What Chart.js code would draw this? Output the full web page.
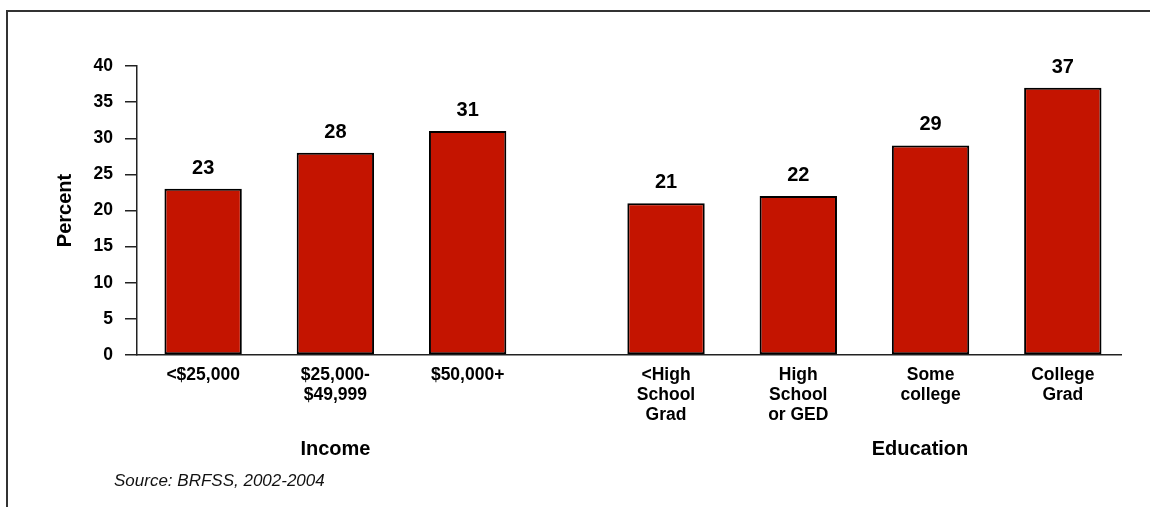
<!DOCTYPE html>
<html>
<head>
<meta charset="utf-8">
<script src="https://cdn.jsdelivr.net/npm/chart.js@4/dist/chart.umd.min.js"></script>
<style>
  html, body { margin: 0; padding: 0; background: #fff; }
  #wrap { width: 1150px; height: 507px; position: relative; }
</style>
</head>
<body>
<div id="wrap"><canvas id="c" width="1150" height="507"></canvas></div>
<script>
// Share of adults (%) by income and by education level
const incomeLabels = ['<$25,000', ['$25,000-', '$49,999'], '$50,000+'];
const incomeValues = [23, 28, 31];

const educationLabels = [['<High', 'School', 'Grad'], ['High', 'School', 'or GED'], ['Some', 'college'], ['College', 'Grad']];
const educationValues = [21, 22, 29, 37];

const groupTitles = ['Income', 'Education'];
const yAxisTitle = 'Percent';
const yRange = [0, 40];
const yStep = 5;
const sourceNote = 'Source: BRFSS, 2002-2004';

// ---- layout helpers ----
const FONT = "'Liberation Sans', Arial, Helvetica, sans-serif";
const GROUP_GAP = 0.5;            // extra empty slot fraction between groups
const TITLE_SHIFT = [0, 0.42];    // horizontal nudge of each group title (in slots)

const groups = [
  { labels: incomeLabels, values: incomeValues },
  { labels: educationLabels, values: educationValues }
];

const points = [];
const tickText = new Map();
const groupCenters = [];
let cursor = 0;
groups.forEach((g) => {
  const start = cursor;
  g.values.forEach((v, i) => {
    points.push({ x: cursor, y: v });
    tickText.set(cursor, g.labels[i]);
    cursor += 1;
  });
  groupCenters.push((start + cursor - 1) / 2);
  cursor += GROUP_GAP;
});
const lastX = points[points.length - 1].x;

// thin frame along the top and left edges
const framePlugin = {
  id: 'frame',
  beforeDraw(chart) {
    const ctx = chart.ctx;
    ctx.save();
    ctx.strokeStyle = '#333';
    ctx.lineWidth = 2;
    ctx.beginPath();
    ctx.moveTo(chart.width, 11);
    ctx.lineTo(7, 11);
    ctx.lineTo(7, chart.height);
    ctx.stroke();
    ctx.restore();
  }
};

// value labels above bars, group titles and the source note
const annotatePlugin = {
  id: 'annotate',
  afterDraw(chart) {
    const ctx = chart.ctx;
    const meta = chart.getDatasetMeta(0);
    const xs = chart.scales.x;
    ctx.save();
    ctx.fillStyle = '#000';
    ctx.textAlign = 'center';
    ctx.textBaseline = 'alphabetic';
    ctx.font = `bold 20px ${FONT}`;
    meta.data.forEach((bar, i) => {
      ctx.fillText(String(points[i].y), bar.x, bar.y - 15);
    });

    ctx.textBaseline = 'middle';
    ctx.font = `bold 20px ${FONT}`;
    groupTitles.forEach((t, i) => {
      ctx.fillText(t, xs.getPixelForValue(groupCenters[i] + TITLE_SHIFT[i]), 449);
    });

    ctx.textAlign = 'left';
    ctx.font = `italic 17px ${FONT}`;
    ctx.fillStyle = '#111';
    ctx.fillText(sourceNote, 114, 481);
    ctx.restore();
  }
};

new Chart(document.getElementById('c'), {
  type: 'bar',
  data: {
    datasets: [{
      data: points,
      backgroundColor: '#C41400',
      borderColor: '#000',
      borderWidth: 2,
      borderSkipped: false,
      barPercentage: 0.585,
      categoryPercentage: 1
    }]
  },
  options: {
    responsive: false,
    animation: false,
    devicePixelRatio: 1,
    layout: { padding: { top: 66, right: 29, left: 0, bottom: 0 } },
    plugins: { legend: { display: false }, tooltip: { enabled: false } },
    scales: {
      x: {
        type: 'linear',
        min: -0.5,
        max: lastX + 0.44,
        offset: false,
        grid: { display: false, drawTicks: false },
        border: { display: true, color: '#222', width: 1.5 },
        ticks: {
          autoSkip: false,
          maxRotation: 0,
          minRotation: 0,
          padding: 10,
          color: '#000',
          font: { family: FONT, size: 17.5, weight: 'bold', lineHeight: 1.14 },
          callback: (v) => (tickText.has(v) ? tickText.get(v) : '')
        },
        afterBuildTicks: (s) => { s.ticks = points.map((p) => ({ value: p.x })); },
        afterFit: (s) => { s.height = 152; }
      },
      y: {
        min: yRange[0],
        max: yRange[1],
        grid: { drawOnChartArea: false, drawTicks: true, tickLength: 12, color: '#222', lineWidth: 1.5 },
        border: { display: true, color: '#222', width: 1.5 },
        ticks: {
          stepSize: yStep,
          padding: 12,
          color: '#000',
          font: { family: FONT, size: 17.5, weight: 'bold' }
        },
        title: {
          display: true,
          text: yAxisTitle,
          color: '#000',
          font: { family: FONT, size: 20, weight: 'bold' },
          padding: { top: 53, bottom: 0 }
        },
        afterFit: (s) => { s.width = 137; }
      }
    }
  },
  plugins: [framePlugin, annotatePlugin]
});
</script>
</body>
</html>
